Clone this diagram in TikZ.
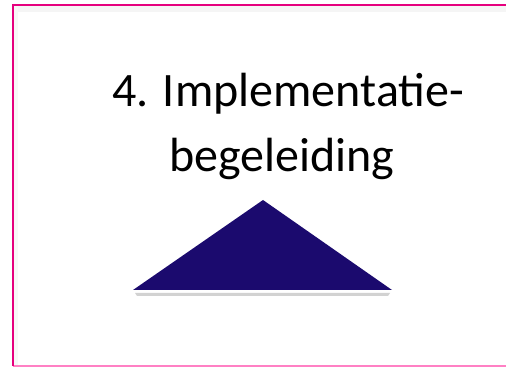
\documentclass[tikz,border=0pt]{standalone}
\usepackage{xcolor}
\usepackage{fontspec}
\setmainfont{Carlito}
\usepackage{tikz}
\definecolor{framepink}{HTML}{E6007E}
\definecolor{framelight}{HTML}{FF80C4}
\definecolor{pyramid}{HTML}{1B0A6E}
\begin{document}
\begin{tikzpicture}[x=1pt,y=1pt]
\useasboundingbox [fill=white] (0,0) rectangle (506,367);
% soft shade inside the frame
\fill [black!4] (14,355) rectangle (506,361);
\fill [black!3] (14,1) rectangle (18,361);
\draw [framelight, line width=1.2] (13,1) -- (506,1);
\draw [framepink, line width=2.2] (13,1) -- (13,362) -- (506,362);
\node [anchor=base, font=\fontsize{48}{58}\selectfont] (line1) at (288,260) {4. Implementatie-};
\node [anchor=base, font=\fontsize{48}{58}\selectfont] (line2) at (282,195) {begeleiding};
\fill [black!35, opacity=.5] (135,74) -- (390,74) -- (388,71) -- (137,71) -- cycle;
\fill [pyramid] (133,77) -- (263,167) -- (392,77) -- cycle;
\end{tikzpicture}
\end{document}
